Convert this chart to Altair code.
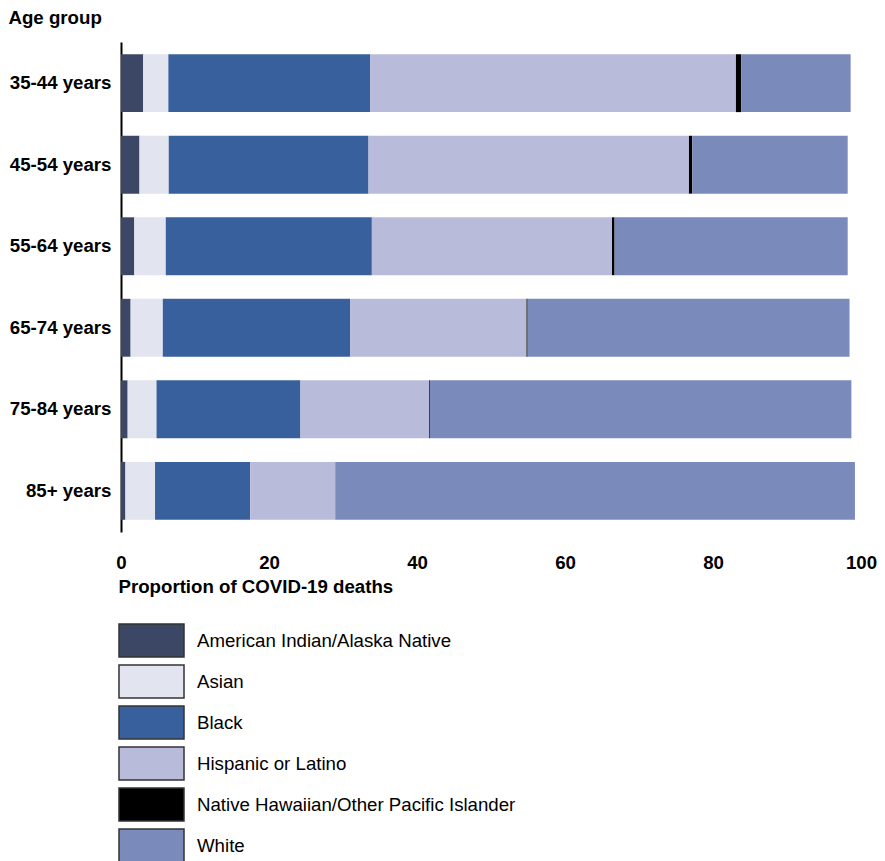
import altair as alt
import pandas as pd

age_groups = ["35-44 years", "45-54 years", "55-64 years", "65-74 years", "75-84 years", "85+ years"]
races = [
    "American Indian/Alaska Native",
    "Asian",
    "Black",
    "Hispanic or Latino",
    "Native Hawaiian/Other Pacific Islander",
    "White",
]
colors = ["#3c4766", "#e2e4f0", "#38609c", "#b8bcda", "#000000", "#7a8aba"]

aian = [3.0, 2.5, 1.8, 1.3, 0.9, 0.6]
asian = [3.4, 3.95, 4.25, 4.35, 3.9, 4.0]
black = [27.3, 27.0, 27.85, 25.3, 19.45, 12.85]
hispanic = [49.4, 43.3, 32.45, 23.85, 17.4, 11.5]
nhpi = [0.7, 0.45, 0.35, 0.15, 0.1, 0.03]
white = [14.8, 21.0, 31.5, 43.5, 56.95, 70.2]

series = [aian, asian, black, hispanic, nhpi, white]
rows = []
for ri, (race, vals) in enumerate(zip(races, series)):
    for age, v in zip(age_groups, vals):
        rows.append({"age": age, "race": race, "value": v, "idx": ri})
df = pd.DataFrame(rows)

FONT = "Liberation Sans"
FS = 18.67

chart = (
    alt.Chart(df)
    .mark_bar()
    .encode(
        x=alt.X(
            "value:Q",
            stack="zero",
            scale=alt.Scale(domain=[0, 100], nice=False),
            axis=alt.Axis(
                title="Proportion of COVID-19 deaths",
                values=[0, 20, 40, 60, 80, 100],
                grid=False,
                ticks=False,
                domain=False,
                labelFlush=False,
                labelPadding=21,
                labelFont=FONT,
                labelFontSize=FS,
                labelFontWeight="bold",
                labelColor="#000000",
                titleFont=FONT,
                titleFontSize=FS,
                titleFontWeight="bold",
                titleColor="#000000",
                titleAnchor="start",
                titleAlign="left",
                titleX=-3,
                titlePadding=6,
            ),
        ),
        y=alt.Y(
            "age:N",
            sort=age_groups,
            scale=alt.Scale(paddingInner=0.29, paddingOuter=0.15),
            axis=alt.Axis(
                title="Age group",
                ticks=False,
                domain=True,
                domainColor="#000000",
                domainWidth=2,
                labelPadding=10,
                labelFont=FONT,
                labelFontSize=FS,
                labelFontWeight="bold",
                labelColor="#000000",
                titleFont=FONT,
                titleFontSize=FS,
                titleFontWeight="bold",
                titleColor="#000000",
                titleAngle=0,
                titleAlign="left",
                titleBaseline="alphabetic",
                titleX=-113,
                titleY=-19,
            ),
        ),
        color=alt.Color(
            "race:N",
            scale=alt.Scale(domain=races, range=colors),
            legend=alt.Legend(
                title=None,
                orient="none",
                legendX=13,
                legendY=581,
                padding=0,
                direction="vertical",
                symbolType="M-1.97,-1H1.97V1H-1.97Z",
                symbolSize=1089,
                symbolStrokeColor="#333333",
                symbolStrokeWidth=1.5,
                symbolOpacity=1,
                labelFont=FONT,
                labelFontSize=FS,
                labelColor="#000000",
                labelOffset=28,
                labelLimit=600,
                rowPadding=2,
            ),
        ),
        order=alt.Order("idx:Q"),
    )
    .properties(width=740, height=490, padding=0)
    .configure_view(stroke=None)
)

chart.save("out.html", embed_options={"renderer": "svg", "actions": False})
